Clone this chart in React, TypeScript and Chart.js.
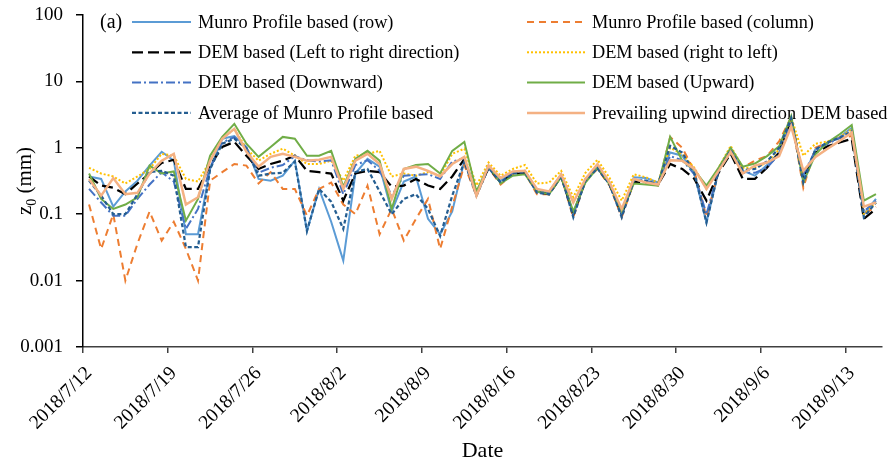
import React, { useEffect, useRef } from "react";
import { Chart, registerables } from "chart.js";
Chart.register(...registerables);

const dates = [
  "2018/7/12","2018/7/13","2018/7/14","2018/7/15","2018/7/16","2018/7/17","2018/7/18","2018/7/19","2018/7/20","2018/7/21",
  "2018/7/22","2018/7/23","2018/7/24","2018/7/25","2018/7/26","2018/7/27","2018/7/28","2018/7/29","2018/7/30","2018/7/31",
  "2018/8/1","2018/8/2","2018/8/3","2018/8/4","2018/8/5","2018/8/6","2018/8/7","2018/8/8","2018/8/9","2018/8/10",
  "2018/8/11","2018/8/12","2018/8/13","2018/8/14","2018/8/15","2018/8/16","2018/8/17","2018/8/18","2018/8/19","2018/8/20",
  "2018/8/21","2018/8/22","2018/8/23","2018/8/24","2018/8/25","2018/8/26","2018/8/27","2018/8/28","2018/8/29","2018/8/30",
  "2018/8/31","2018/9/1","2018/9/2","2018/9/3","2018/9/4","2018/9/5","2018/9/6","2018/9/7","2018/9/8","2018/9/9",
  "2018/9/10","2018/9/11","2018/9/12","2018/9/13","2018/9/14","2018/9/15",
];

const tickLabels = ["2018/7/12","2018/7/19","2018/7/26","2018/8/2","2018/8/9","2018/8/16","2018/8/23","2018/8/30","2018/9/6","2018/9/13"];

const yTicks = [0.001, 0.01, 0.1, 1, 10, 100];
const yTickLabels = ["0.001", "0.01", "0.1", "1", "10", "100"];

const munroRow = [
  0.37,0.34,0.13,0.22,0.32,0.54,0.87,0.64,0.05,0.05,
  0.48,1.37,1.5,1.03,0.34,0.32,0.38,0.64,0.056,0.24,
  0.077,0.02,0.41,0.68,0.52,0.11,0.31,0.37,0.085,0.05,
  0.11,0.64,0.2,0.5,0.32,0.42,0.45,0.22,0.22,0.4,
  0.1,0.34,0.5,0.3,0.1,0.36,0.35,0.3,0.85,0.76,
  0.4,0.075,0.45,0.95,0.45,0.38,0.55,0.85,2.8,0.35,
  0.95,1.2,1.45,2.0,0.1,0.17,
];
const munroColumn = [
  0.14,0.03,0.1,0.01,0.036,0.11,0.04,0.077,0.03,0.01,
  0.32,0.43,0.57,0.54,0.29,0.43,0.24,0.24,0.095,0.24,
  0.3,0.14,0.1,0.27,0.05,0.12,0.04,0.085,0.17,0.03,
  0.13,0.55,0.19,0.5,0.28,0.4,0.42,0.2,0.2,0.37,
  0.09,0.32,0.48,0.27,0.09,0.3,0.3,0.27,1.45,1.0,
  0.45,0.09,0.45,0.9,0.5,0.64,0.75,1.25,2.9,0.25,
  1.0,1.2,1.4,1.5,0.1,0.13,
];
const demLeftRight = [
  0.37,0.27,0.25,0.2,0.29,0.41,0.59,0.66,0.24,0.24,
  0.54,1.03,1.23,0.76,0.48,0.57,0.64,0.76,0.45,0.43,
  0.41,0.16,0.41,0.45,0.43,0.26,0.27,0.34,0.27,0.24,
  0.37,0.68,0.2,0.5,0.3,0.4,0.42,0.22,0.2,0.37,
  0.1,0.32,0.5,0.28,0.1,0.31,0.3,0.28,0.57,0.48,
  0.34,0.16,0.42,0.82,0.34,0.34,0.5,0.85,2.7,0.35,
  0.85,1.05,1.2,1.37,0.085,0.12,
];
const demRightLeft = [
  0.5,0.41,0.37,0.29,0.37,0.48,0.81,0.76,0.34,0.31,
  0.64,1.37,1.93,0.97,0.64,0.81,0.97,0.76,0.57,0.57,
  0.64,0.32,0.76,0.81,0.9,0.37,0.41,0.38,0.43,0.38,
  0.81,0.97,0.27,0.6,0.38,0.48,0.55,0.29,0.3,0.45,
  0.18,0.42,0.66,0.35,0.16,0.4,0.36,0.3,1.0,0.8,
  0.5,0.24,0.5,1.07,0.5,0.5,0.6,0.95,2.9,0.76,
  1.15,1.25,1.45,1.9,0.1,0.15,
];
const demDownward = [
  0.24,0.15,0.095,0.095,0.17,0.28,0.43,0.31,0.06,0.12,
  0.5,1.2,1.45,1.0,0.42,0.5,0.55,0.75,0.65,0.62,
  0.65,0.2,0.55,0.65,0.45,0.19,0.38,0.39,0.4,0.34,
  0.62,0.7,0.2,0.52,0.3,0.42,0.45,0.23,0.21,0.38,
  0.1,0.33,0.52,0.29,0.1,0.33,0.32,0.28,0.75,0.65,
  0.4,0.1,0.45,0.9,0.42,0.42,0.5,0.8,2.4,0.4,
  0.9,1.15,1.4,1.8,0.11,0.16,
];
const demUpward = [
  0.41,0.17,0.12,0.14,0.18,0.54,0.41,0.44,0.08,0.17,
  0.76,1.46,2.3,1.15,0.73,1.03,1.46,1.37,0.76,0.76,
  0.9,0.26,0.68,0.9,0.64,0.12,0.48,0.55,0.57,0.41,
  0.9,1.23,0.22,0.54,0.29,0.38,0.4,0.22,0.2,0.36,
  0.11,0.3,0.5,0.28,0.11,0.29,0.28,0.27,1.46,0.64,
  0.46,0.27,0.5,1.0,0.52,0.58,0.75,1.05,3.0,0.3,
  0.8,1.2,1.6,2.2,0.16,0.2,
];
const munroAverage = [
  0.32,0.19,0.1,0.1,0.2,0.43,0.45,0.38,0.032,0.032,
  0.48,1.15,1.37,0.97,0.38,0.41,0.42,0.62,0.056,0.24,
  0.154,0.06,0.43,0.48,0.22,0.1,0.17,0.2,0.12,0.047,
  0.19,0.62,0.19,0.5,0.3,0.41,0.43,0.21,0.2,0.38,
  0.09,0.32,0.49,0.28,0.09,0.32,0.32,0.28,1.07,0.85,
  0.42,0.075,0.45,0.92,0.46,0.48,0.62,1.0,2.8,0.3,
  0.95,1.2,1.42,1.75,0.09,0.15,
];
const prevailingDem = [
  0.34,0.19,0.35,0.2,0.21,0.41,0.64,0.81,0.14,0.18,
  0.64,1.37,1.93,0.87,0.52,0.73,0.81,0.73,0.64,0.66,
  0.73,0.24,0.64,0.81,0.57,0.17,0.48,0.52,0.45,0.37,
  0.57,0.73,0.19,0.54,0.35,0.44,0.45,0.24,0.22,0.4,
  0.15,0.34,0.57,0.3,0.12,0.34,0.3,0.28,0.65,0.64,
  0.48,0.24,0.45,0.87,0.41,0.54,0.6,0.75,2.1,0.45,
  0.73,0.97,1.27,1.7,0.13,0.15,
];

const seriesDefs = [
  { label: "Munro Profile based (row)", data: munroRow, color: "#5B9BD5", width: 2, dash: [] as number[] },
  { label: "Munro Profile based (column)", data: munroColumn, color: "#ED7D31", width: 2, dash: [7, 5] },
  { label: "DEM based (Left to right direction)", data: demLeftRight, color: "#000000", width: 2.25, dash: [11, 5] },
  { label: "DEM based (right to left)", data: demRightLeft, color: "#FFC000", width: 2, dash: [2, 2] },
  { label: "DEM based (Downward)", data: demDownward, color: "#4472C4", width: 2, dash: [9, 3, 2, 3] },
  { label: "DEM based (Upward)", data: demUpward, color: "#70AD47", width: 2, dash: [] as number[] },
  { label: "Average of Munro Profile based", data: munroAverage, color: "#255E91", width: 2.25, dash: [4, 2.5] },
  { label: "Prevailing upwind direction DEM based", data: prevailingDem, color: "#F4B183", width: 2.5, dash: [] as number[] },
];

const FONT = '"Liberation Serif", "Times New Roman", serif';

const legendPlugin = {
  id: "inlineLegend",
  beforeDatasetsDraw(chart: any) {
    const ctx = chart.ctx;
    ctx.save();
    ctx.fillStyle = "#000";
    ctx.textBaseline = "middle";
    ctx.textAlign = "left";
    ctx.font = `20px ${FONT}`;
    ctx.fillText("(a)", 100, 23);
    ctx.font = `18.3px ${FONT}`;
    chart.data.datasets.forEach((ds: any, i: number) => {
      const col = i % 2;
      const row = Math.floor(i / 2);
      const x0 = col ? 527 : 132;
      const x1 = col ? 585 : 191;
      const tx = col ? 592 : 198;
      const y = 22 + row * 30.3;
      ctx.strokeStyle = ds.borderColor;
      ctx.lineWidth = ds.borderWidth;
      ctx.setLineDash(ds.borderDash || []);
      ctx.beginPath();
      ctx.moveTo(x0, y);
      ctx.lineTo(x1, y);
      ctx.stroke();
      ctx.setLineDash([]);
      ctx.fillText(ds.label, tx, y + 1);
    });
    ctx.restore();
  },
  afterDraw(chart: any) {
    const ctx = chart.ctx;
    const area = chart.chartArea;
    ctx.save();
    ctx.fillStyle = "#000";
    // x-axis title
    ctx.font = `22px ${FONT}`;
    ctx.textAlign = "center";
    ctx.textBaseline = "middle";
    ctx.fillText("Date", (area.left + area.right) / 2, 451);
    // y-axis title with subscript
    ctx.translate(31, (area.top + area.bottom) / 2);
    ctx.rotate(-Math.PI / 2);
    ctx.textBaseline = "alphabetic";
    ctx.textAlign = "left";
    ctx.font = `21px ${FONT}`;
    const w1 = ctx.measureText("z").width;
    const w3 = ctx.measureText(" (mm)").width;
    ctx.font = `14px ${FONT}`;
    const w2 = ctx.measureText("0").width;
    const start = -(w1 + w2 + w3) / 2;
    ctx.font = `21px ${FONT}`;
    ctx.fillText("z", start, 0);
    ctx.fillText(" (mm)", start + w1 + w2, 0);
    ctx.font = `14px ${FONT}`;
    ctx.fillText("0", start + w1, 5);
    ctx.restore();
  },
};

export default function App() {
  const ref = useRef<HTMLCanvasElement | null>(null);
  useEffect(() => {
    if (!ref.current) return;
    const tickDays = tickLabels.map((t) => dates.indexOf(t));
    const chart = new Chart(ref.current, {
      type: "line",
      data: {
        datasets: seriesDefs.map((s, i) => ({
          label: s.label,
          data: s.data.map((v, d) => ({ x: d + 0.5, y: v })),
          borderColor: s.color,
          backgroundColor: s.color,
          borderWidth: s.width,
          borderDash: s.dash,
          pointRadius: 0,
          tension: 0,
          fill: false,
          order: seriesDefs.length - i,
        })),
      },
      options: {
        animation: false,
        responsive: false,
        maintainAspectRatio: false,
        layout: { padding: { top: 15, right: 14, left: 0, bottom: 0 } },
        plugins: { legend: { display: false }, tooltip: { enabled: false } },
        scales: {
          x: {
            type: "linear",
            min: 0,
            max: dates.length,
            afterBuildTicks: (s: any) => { s.ticks = tickDays.map((d) => ({ value: d })); },
            grid: {
              drawOnChartArea: false,
              drawTicks: true,
              tickLength: 6,
              color: "#404040",
              lineWidth: 1.5,
            },
            border: { display: true, color: "#404040", width: 1.5 },
            ticks: {
              autoSkip: false,
              minRotation: 45,
              maxRotation: 45,
              padding: 9,
              labelOffset: 6,
              color: "#000",
              font: { family: FONT, size: 19.5 },
              callback: (v: any) => dates[Number(v)] ?? null,
            },
            afterFit: (s: any) => {
              s.height = 115;
              s.paddingLeft = 0;
              s.paddingRight = 0;
            },
          },
          y: {
            type: "logarithmic",
            min: 0.001,
            max: 100,
            afterBuildTicks: (s: any) => { s.ticks = yTicks.map((v) => ({ value: v })); },
            grid: { drawOnChartArea: false, drawTicks: true, tickLength: 7, color: "#000", lineWidth: 1.5 },
            border: { display: true, color: "#000", width: 1.5 },
            ticks: {
              padding: 13,
              color: "#000",
              font: { family: FONT, size: 19 },
              callback: (v: any) => {
                const k = yTicks.indexOf(Number(v));
                return k >= 0 ? yTickLabels[k] : null;
              },
            },
            afterFit: (s: any) => {
              s.width = 83;
              s.paddingTop = 0;
              s.paddingBottom = 0;
            },
          },
        },
      },
      plugins: [legendPlugin],
    });
    return () => chart.destroy();
  }, []);
  return (
    <div style={{ position: "absolute", left: 0, top: 0, width: 896, height: 462, background: "#fff" }}>
      <canvas ref={ref} width={896} height={462} />
    </div>
  );
}
